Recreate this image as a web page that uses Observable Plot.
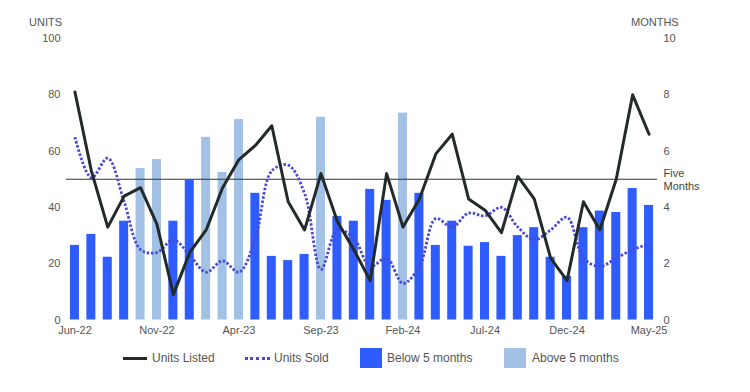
<!DOCTYPE html>
<html>
<head>
<meta charset="utf-8">
<script src="https://cdn.jsdelivr.net/npm/d3@7"></script>
<script src="https://cdn.jsdelivr.net/npm/@observablehq/plot@0.6"></script>
<style>
  html, body { margin: 0; padding: 0; background: #fff; }
  #wrap { position: relative; width: 750px; height: 392px; font-family: "Liberation Sans", Arial, sans-serif; color: #555; }
  .abs { position: absolute; white-space: nowrap; }
  .axt { font-size: 11px; color: #555; line-height: 14px; }
  .lg { font-size: 12px; color: #555; line-height: 14px; }
</style>
</head>
<body>
<div id="wrap">
  <div id="chart"></div>
  <div class="abs axt" style="left:29px; top:15px;">UNITS</div>
  <div class="abs axt" style="left:631px; top:15px;">MONTHS</div>
  <div id="legend"></div>
</div>
<script>
const months = ["Jun-22","Jul-22","Aug-22","Sep-22","Oct-22","Nov-22","Dec-22","Jan-23","Feb-23","Mar-23","Apr-23","May-23",
                "Jun-23","Jul-23","Aug-23","Sep-23","Oct-23","Nov-23","Dec-23","Jan-24","Feb-24","Mar-24","Apr-24","May-24",
                "Jun-24","Jul-24","Aug-24","Sep-24","Oct-24","Nov-24","Dec-24","Jan-25","Feb-25","Mar-25","Apr-25","May-25"];
const supplyMonths = [2.65,3.04,2.23,3.51,5.38,5.70,3.51,4.96,6.49,5.24,7.12,4.50,
                      2.26,2.11,2.33,7.20,3.68,3.51,4.64,4.25,7.35,4.50,2.65,3.51,
                      2.62,2.75,2.26,3.00,3.28,2.23,1.55,3.28,3.87,3.82,4.67,4.07];
const unitsListed = [81,53,33,44,47,34,9,24,32,47,57,62,
                     69,42,32,52,35,25,14,52,33,43,59,66,
                     43,39,31,51,43,22,14,42,32,50,80,66];
const unitsSold = [65,50.5,57.5,42,25,24,28.5,23,17,21,17,29,
                   53,55,45,18,32,29,19,22,13,19,36,33,
                   38,37,40,33,28.5,32,36.5,22,19,22,25,27];
const xTicks = ["Jun-22","Nov-22","Apr-23","Sep-23","Feb-24","Jul-24","Dec-24","May-25"];
const unitTicks = [0,20,40,60,80,100];
const threshold = 5;

const DARK = "#2f5cff", LIGHT = "#a3c1e5", BLACK = "#222a2a", SOLD = "#4a4ad6";

const data = months.map((m, i) => ({month: m, supply: supplyMonths[i], listed: unitsListed[i], sold: unitsSold[i]}));

const chart = Plot.plot({
  width: 750,
  height: 340,
  marginTop: 38,
  marginBottom: 20.5,
  marginLeft: 66,
  marginRight: 93,
  style: {fontFamily: "Liberation Sans, Arial, sans-serif", fontSize: "11px", color: "#555", background: "#fff"},
  x: {type: "band", domain: months, paddingInner: 0.45, paddingOuter: 0.24, round: false},
  y: {domain: [0, 100]},
  marks: [
    Plot.barY(data, {x: "month", y: d => d.supply * 10, fill: d => d.supply > threshold ? LIGHT : DARK}),
    Plot.ruleY([threshold * 10], {stroke: "#333", strokeWidth: 1}),
    Plot.lineY(data, {x: "month", y: "sold", stroke: SOLD, strokeWidth: 2.8, strokeDasharray: "2.5,1.8", strokeLinecap: "butt", curve: "catmull-rom"}),
    Plot.lineY(data, {x: "month", y: "listed", stroke: BLACK, strokeWidth: 3}),
    Plot.text([{y: threshold * 10, t: "Five\nMonths"}], {y: "y", text: "t", frameAnchor: "right", dx: 6, textAnchor: "start", fill: "#444", fontSize: 11, lineHeight: 1.15}),
    Plot.axisX({ticks: xTicks, tickSize: 0, tickPadding: 6, fontSize: 11, label: null}),
    Plot.axisY({anchor: "left", ticks: unitTicks, tickSize: 0, tickPadding: 6, label: null, fontSize: 11}),
    Plot.axisY({anchor: "right", ticks: unitTicks, tickFormat: d => d / 10, tickSize: 0, tickPadding: 6, label: null, fontSize: 11})
  ]
});
document.getElementById("chart").appendChild(chart);

// legend
const legendItems = [
  {label: "Units Listed", type: "line", color: BLACK, sx: 123, tx: 152},
  {label: "Units Sold", type: "dots", color: SOLD, sx: 245, tx: 274},
  {label: "Below 5 months", type: "box", color: DARK, sx: 360, tx: 387},
  {label: "Above 5 months", type: "box", color: LIGHT, sx: 504, tx: 532}
];
const lg = document.getElementById("legend");
legendItems.forEach(it => {
  const sw = document.createElement("div");
  sw.className = "abs";
  if (it.type === "line") {
    sw.style.cssText = `left:${it.sx}px; top:357px; width:24px; height:3px; background:${it.color};`;
  } else if (it.type === "dots") {
    sw.style.cssText = `left:${it.sx}px; top:357px; width:25px; height:0; border-top:3px dotted ${it.color};`;
  } else {
    sw.style.cssText = `left:${it.sx}px; top:348px; width:22px; height:20px; background:${it.color};`;
  }
  lg.appendChild(sw);
  const t = document.createElement("div");
  t.className = "abs lg";
  t.style.cssText = `left:${it.tx}px; top:351px;`;
  t.textContent = it.label;
  lg.appendChild(t);
});
</script>
</body>
</html>
